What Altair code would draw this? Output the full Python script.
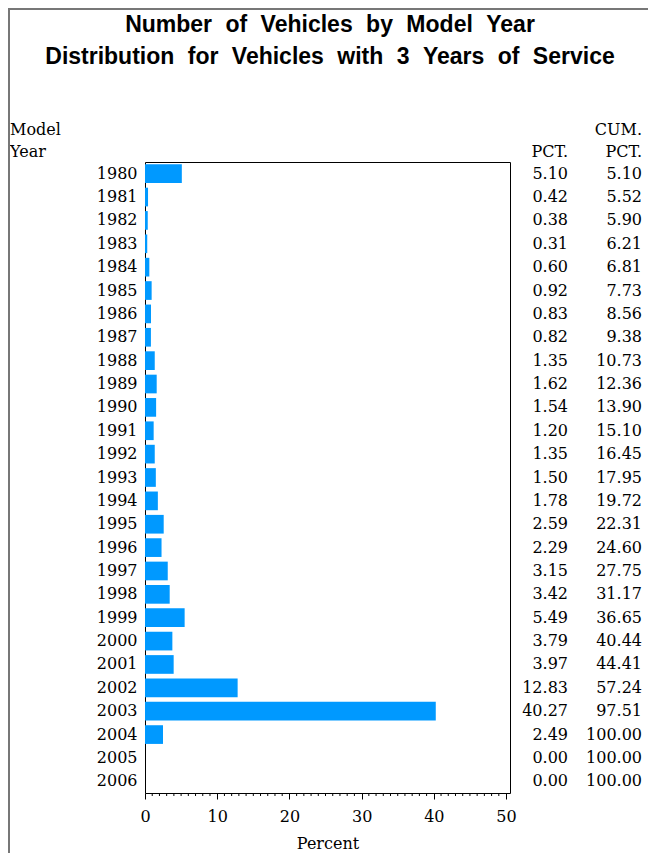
import altair as alt
import pandas as pd

years = [str(y) for y in range(1980, 2007)]
pct = [5.10, 0.42, 0.38, 0.31, 0.60, 0.92, 0.83, 0.82, 1.35, 1.62, 1.54, 1.20, 1.35,
       1.50, 1.78, 2.59, 2.29, 3.15, 3.42, 5.49, 3.79, 3.97, 12.83, 40.27, 2.49, 0.00, 0.00]
cum = [5.10, 5.52, 5.90, 6.21, 6.81, 7.73, 8.56, 9.38, 10.73, 12.36, 13.90, 15.10, 16.45,
       17.95, 19.72, 22.31, 24.60, 27.75, 31.17, 36.65, 40.44, 44.41, 57.24, 97.51,
       100.00, 100.00, 100.00]
major_ticks = [0, 10, 20, 30, 40, 50]
minor_ticks = [v for v in range(0, 51) if v % 10 != 0]
title_lines = ["Number of Vehicles by Model Year",
               "Distribution for Vehicles with 3 Years of Service"]

GAP = "\u2002\u200a"  # wide word spacing as in the reference title
title_lines_spaced = [GAP.join(t.split(" ")) for t in title_lines]

df = pd.DataFrame({
    "year": years,
    "pct": pct,
    "cum": cum,
    "pct_lbl": [f"{v:.2f}" for v in pct],
    "cum_lbl": [f"{v:.2f}" for v in cum],
})
minor_df = pd.DataFrame({"v": minor_ticks})

W, H = 365, 631
SERIF = "DejaVu Serif"
one = alt.Data(values=[{}])

xscale = alt.Scale(domain=[0, 50.55], nice=False, zero=True)
yscale = alt.Scale(domain=years, paddingInner=0.2, paddingOuter=0.1)

bars = alt.Chart(df).mark_bar(color="#0099ff").encode(
    x=alt.X("pct:Q", scale=xscale,
            axis=alt.Axis(values=major_ticks, title="Percent", grid=False,
                          domain=False, tickSize=6, tickColor="black",
                          labelFont=SERIF, labelFontSize=16, labelColor="black",
                          labelPadding=9, titleFont=SERIF, titleFontSize=16,
                          titleFontWeight="normal", titleColor="black",
                          titlePadding=11, labelFlush=False)),
    y=alt.Y("year:N", scale=yscale,
            axis=alt.Axis(title=None, ticks=False, domain=False,
                          labelFont=SERIF, labelFontSize=16, labelColor="black",
                          labelPadding=8)),
)

minor = alt.Chart(minor_df).mark_rule(color="black", strokeWidth=1).encode(
    x=alt.X("v:Q", scale=xscale),
    y=alt.value(H),
    y2=alt.value(H + 3),
)

pct_text = alt.Chart(df).mark_text(align="right", baseline="middle", font=SERIF,
                                   fontSize=16, color="black").encode(
    y=alt.Y("year:N", scale=yscale),
    x=alt.value(423),
    text="pct_lbl:N",
)
cum_text = alt.Chart(df).mark_text(align="right", baseline="middle", font=SERIF,
                                   fontSize=16, color="black").encode(
    y=alt.Y("year:N", scale=yscale),
    x=alt.value(497),
    text="cum_lbl:N",
)

def label(txt, x, y, align="left", font=SERIF, size=16, weight="normal"):
    return alt.Chart(one).mark_text(text=txt, align=align, baseline="middle",
                                    font=font, fontSize=size, fontWeight=weight,
                                    color="black").encode(x=alt.value(x), y=alt.value(y))

texts = [
    label(title_lines_spaced[0], 185, -137, align="center", font="Liberation Sans", size=23, weight="bold"),
    label(title_lines_spaced[1], 185, -105, align="center", font="Liberation Sans", size=23, weight="bold"),
    label("Model", -135, -32),
    label("Year", -135, -10),
    label("CUM.", 497, -32, align="right"),
    label("PCT.", 497, -10, align="right"),
    label("PCT.", 423, -10, align="right"),
]

border_v = alt.Chart(one).mark_rule(color="#777777", strokeWidth=2).encode(
    x=alt.value(-136), y=alt.value(-153), y2=alt.value(H + 60))
border_h = alt.Chart(one).mark_rule(color="#777777", strokeWidth=2).encode(
    x=alt.value(-137), x2=alt.value(W + 138), y=alt.value(-153))

chart = alt.layer(bars, minor, pct_text, cum_text, *texts, border_v, border_h).properties(
    width=W, height=H,
    autosize=alt.AutoSizeParams(type="none"),
    padding={"left": 137, "top": 154, "right": 138, "bottom": 60},
    background="white",
).configure_view(stroke="black", strokeWidth=1)

chart.save("out.html", embed_options={"renderer": "svg", "actions": False})
